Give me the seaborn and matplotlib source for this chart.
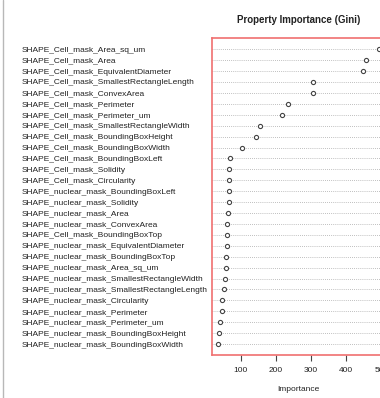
import matplotlib
matplotlib.use("Agg")
import matplotlib.pyplot as plt
from matplotlib.lines import Line2D
import seaborn as sns
import pandas as pd

features = [
    "SHAPE_Cell_mask_Area_sq_um",
    "SHAPE_Cell_mask_Area",
    "SHAPE_Cell_mask_EquivalentDiameter",
    "SHAPE_Cell_mask_SmallestRectangleLength",
    "SHAPE_Cell_mask_ConvexArea",
    "SHAPE_Cell_mask_Perimeter",
    "SHAPE_Cell_mask_Perimeter_um",
    "SHAPE_Cell_mask_SmallestRectangleWidth",
    "SHAPE_Cell_mask_BoundingBoxHeight",
    "SHAPE_Cell_mask_BoundingBoxWidth",
    "SHAPE_Cell_mask_BoundingBoxLeft",
    "SHAPE_Cell_mask_Solidity",
    "SHAPE_Cell_mask_Circularity",
    "SHAPE_nuclear_mask_BoundingBoxLeft",
    "SHAPE_nuclear_mask_Solidity",
    "SHAPE_nuclear_mask_Area",
    "SHAPE_nuclear_mask_ConvexArea",
    "SHAPE_Cell_mask_BoundingBoxTop",
    "SHAPE_nuclear_mask_EquivalentDiameter",
    "SHAPE_nuclear_mask_BoundingBoxTop",
    "SHAPE_nuclear_mask_Area_sq_um",
    "SHAPE_nuclear_mask_SmallestRectangleWidth",
    "SHAPE_nuclear_mask_SmallestRectangleLength",
    "SHAPE_nuclear_mask_Circularity",
    "SHAPE_nuclear_mask_Perimeter",
    "SHAPE_nuclear_mask_Perimeter_um",
    "SHAPE_nuclear_mask_BoundingBoxHeight",
    "SHAPE_nuclear_mask_BoundingBoxWidth",
]
importance = [492, 455, 449, 306, 306, 236, 219, 154, 145, 103,
              70, 68, 68, 66, 66, 64, 61, 60, 60, 59,
              59, 57, 53, 48, 46, 42, 39, 37]
x_ticks = [100, 200, 300, 400, 500]

df = pd.DataFrame({"feature": features, "importance": importance})

sns.set_style("white")
plt.rcParams["font.family"] = ["Liberation Sans", "DejaVu Sans"]

fig = plt.figure(figsize=(3.8, 3.98), dpi=100)
ax = fig.add_axes([212 / 380, 43 / 398, 173 / 380, 316.7 / 398])

sns.stripplot(data=df, x="importance", y="feature", order=features,
              orient="h", jitter=False, ax=ax, size=3.0,
              color="white", edgecolor="#444444", linewidth=0.8, zorder=3)

# dotted guide line for each feature row
ax.grid(False)
for i in range(len(features)):
    ax.axhline(i, color="#aaaaaa", linestyle=(0, (1, 1.5)), linewidth=0.6, zorder=1)

lo, hi = min(importance), max(importance)
pad = 0.04 * (hi - lo)
ax.set_xlim(lo - pad, hi + pad)
ax.set_ylim(len(features), -1)

ax.set_xticks(x_ticks)
ax.set_xticklabels([str(t) for t in x_ticks])
ax.tick_params(axis="x", direction="out", length=4, width=0.8, color="#444444",
               labelsize=6, labelcolor="#222222", pad=5, bottom=True)
ax.tick_params(axis="y", length=0, labelsize=6, labelcolor="#222222", pad=137)
for lab in ax.get_yticklabels():
    lab.set_horizontalalignment("left")

for sp in ax.spines.values():
    sp.set_visible(True)
    sp.set_color("#f07070")
    sp.set_linewidth(1.2)

ax.set_ylabel("")
ax.set_xlabel("Importance", fontsize=6, color="#222222", labelpad=8)
ax.set_title("Property Importance (Gini)", fontsize=7, fontweight="bold",
             color="#222222", pad=11)

fig.add_artist(Line2D([2.5 / 380, 2.5 / 380], [0, 1], transform=fig.transFigure,
                      color="#b8b8b8", linewidth=1))

fig.savefig("out.png", dpi=100)
